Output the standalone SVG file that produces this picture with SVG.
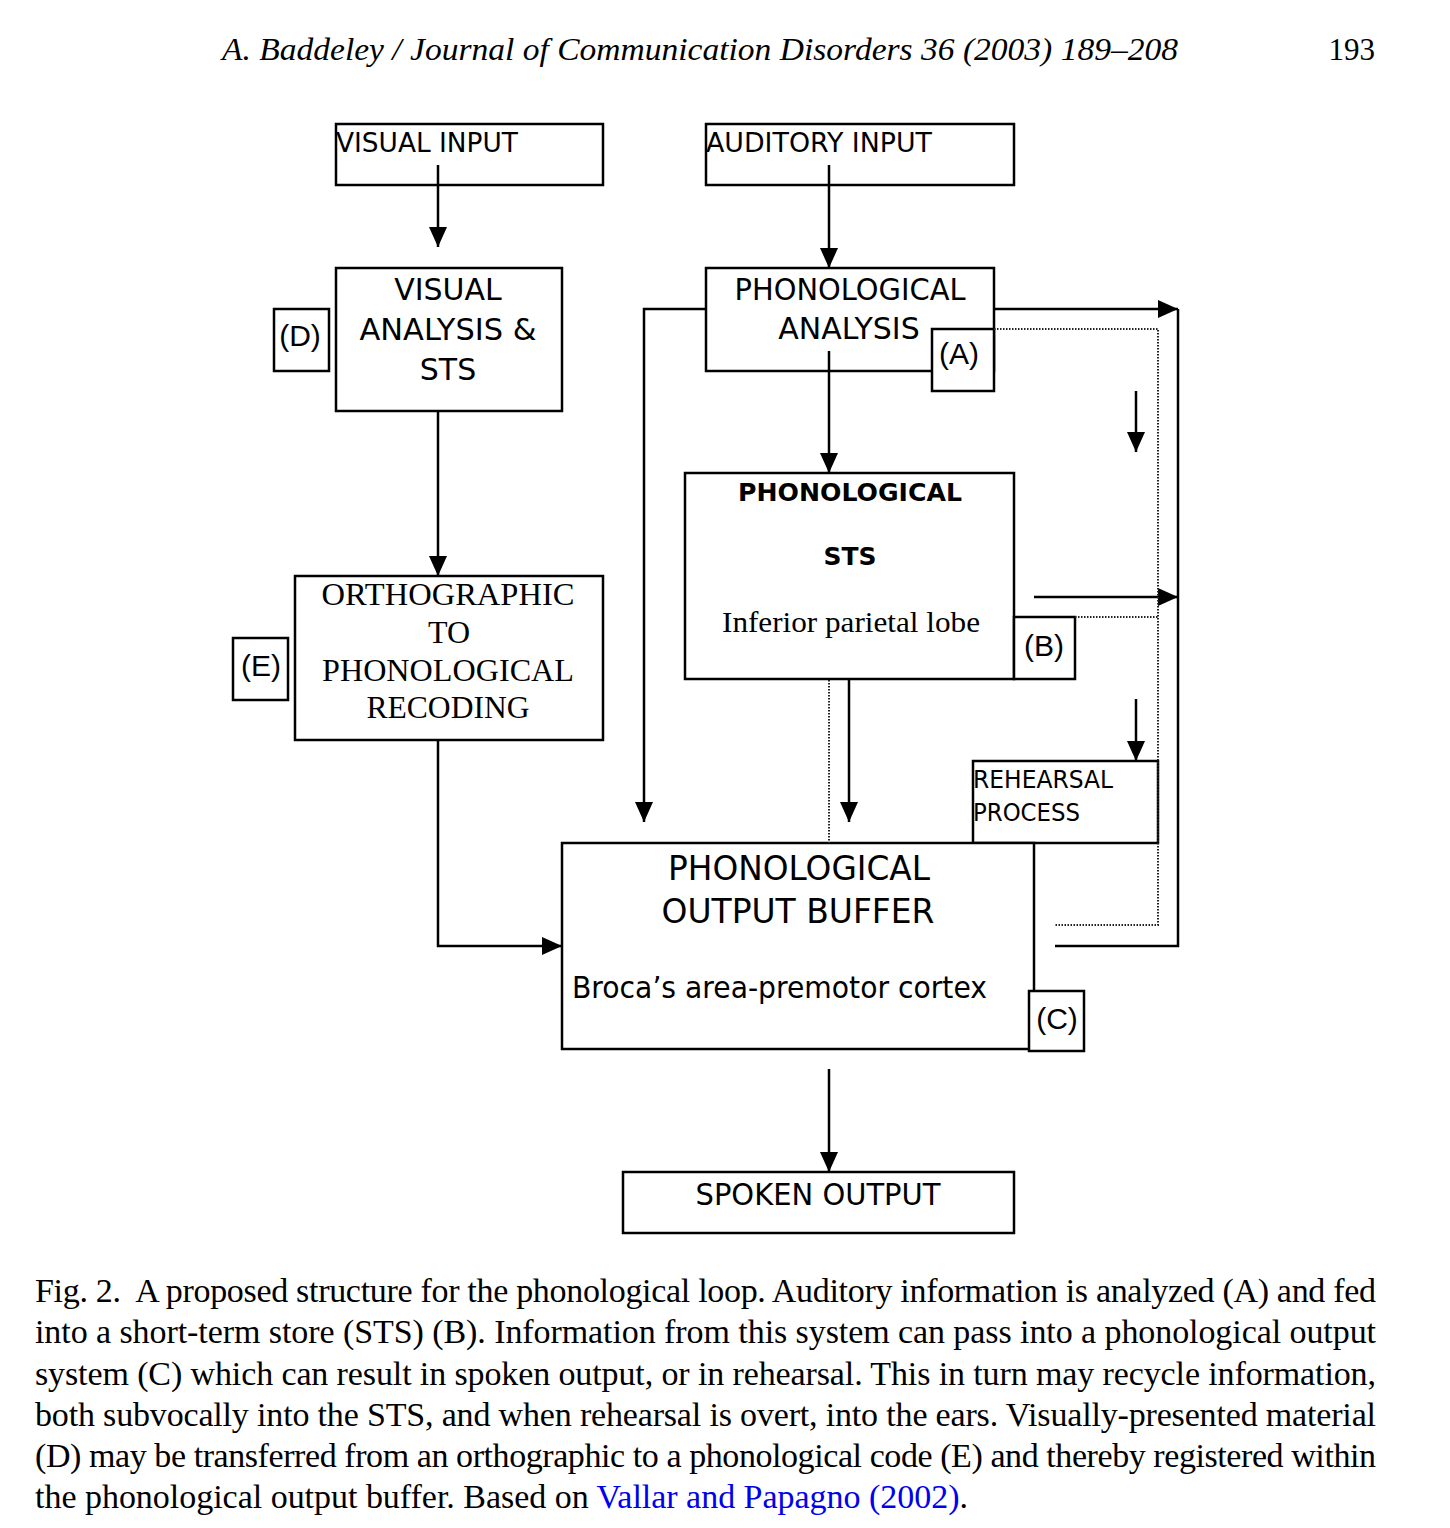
<svg xmlns="http://www.w3.org/2000/svg" width="1450" height="1528" viewBox="0 0 1450 1528">
<defs>
<marker id="ah" markerUnits="userSpaceOnUse" markerWidth="20" markerHeight="18" refX="20" refY="9" orient="auto">
<path d="M0,0 L20,9 L0,18 z" fill="#000"/>
</marker>
<style>
.box{fill:#fff;stroke:#000;stroke-width:2.5}
.ln{fill:none;stroke:#000;stroke-width:2.5}
.dot{fill:none;stroke:#222;stroke-width:2;stroke-dasharray:1.5 1.5}
.v{font-family:"DejaVu Sans",Verdana,sans-serif;fill:#000}
.a{font-family:"Liberation Sans",Arial,sans-serif;fill:#000;font-size:30px;text-anchor:middle}
.t{font-family:"Liberation Serif","Times New Roman",serif;fill:#000}
.cap{font-family:"Liberation Serif","Times New Roman",serif;font-size:34px;fill:#000}
</style>
</defs>
<rect width="1450" height="1528" fill="#fff"/>
<text class="t" x="222" y="60" font-size="31" font-style="italic" textLength="956" lengthAdjust="spacingAndGlyphs">A. Baddeley / Journal of Communication Disorders 36 (2003) 189–208</text>
<text class="t" x="1375" y="60" font-size="31" text-anchor="end">193</text>

<g id="visual-input">
<rect class="box" x="336" y="124" width="267" height="61"/>
<text class="v" x="336" y="152" font-size="27" textLength="182" lengthAdjust="spacingAndGlyphs">VISUAL INPUT</text>
</g>
<g id="visual-analysis">
<rect class="box" x="336" y="268" width="226" height="143"/>
<text class="v" x="448" y="300" font-size="30" text-anchor="middle">VISUAL</text>
<text class="v" x="448" y="340" font-size="30" text-anchor="middle" textLength="177" lengthAdjust="spacingAndGlyphs">ANALYSIS &amp;</text>
<text class="v" x="448" y="380" font-size="30" text-anchor="middle">STS</text>
</g>
<g id="label-d">
<rect class="box" x="274" y="309" width="55" height="62"/>
<text class="a" x="300" y="346">(D)</text>
</g>
<g id="orthographic">
<rect class="box" x="295" y="576" width="308" height="164"/>
<text class="t" x="448" y="605" font-size="32" text-anchor="middle" textLength="253" lengthAdjust="spacingAndGlyphs">ORTHOGRAPHIC</text>
<text class="t" x="449" y="643" font-size="32" text-anchor="middle">TO</text>
<text class="t" x="448" y="681" font-size="32" text-anchor="middle" textLength="252" lengthAdjust="spacingAndGlyphs">PHONOLOGICAL</text>
<text class="t" x="448" y="718" font-size="32" text-anchor="middle" textLength="163" lengthAdjust="spacingAndGlyphs">RECODING</text>
</g>
<g id="label-e">
<rect class="box" x="233" y="638" width="55" height="62"/>
<text class="a" x="261" y="676">(E)</text>
</g>
<g id="auditory-input">
<rect class="box" x="706" y="124" width="308" height="61"/>
<text class="v" x="706" y="152" font-size="27" textLength="226" lengthAdjust="spacingAndGlyphs">AUDITORY INPUT</text>
</g>
<g id="phonological-analysis">
<rect class="box" x="706" y="268" width="288" height="103"/>
<text class="v" x="850" y="300" font-size="30" text-anchor="middle" textLength="231" lengthAdjust="spacingAndGlyphs">PHONOLOGICAL</text>
<text class="v" x="849" y="339" font-size="30" text-anchor="middle">ANALYSIS</text>
</g>
<g id="label-a">
<rect class="box" x="932" y="329" width="62" height="62"/>
<text class="a" x="959" y="364">(A)</text>
</g>
<g id="phonological-sts">
<rect class="box" x="685" y="473" width="329" height="206"/>
<text class="v" x="850" y="501" font-size="25" font-weight="bold" text-anchor="middle" textLength="224" lengthAdjust="spacingAndGlyphs">PHONOLOGICAL</text>
<text class="v" x="850" y="565" font-size="25" font-weight="bold" text-anchor="middle" textLength="53" lengthAdjust="spacingAndGlyphs">STS</text>
<text class="t" x="851" y="632" font-size="30" text-anchor="middle" textLength="258" lengthAdjust="spacingAndGlyphs">Inferior parietal lobe</text>
</g>
<g id="label-b">
<rect class="box" x="1014" y="617" width="61" height="62"/>
<text class="a" x="1044" y="656">(B)</text>
</g>
<g id="rehearsal">
<rect class="box" x="973" y="761" width="185" height="82"/>
<text class="v" x="973" y="788" font-size="24" textLength="140" lengthAdjust="spacingAndGlyphs">REHEARSAL</text>
<text class="v" x="973" y="821" font-size="24" textLength="107" lengthAdjust="spacingAndGlyphs">PROCESS</text>
</g>
<g id="output-buffer">
<rect class="box" x="562" y="843" width="472" height="206"/>
<text class="v" x="799" y="880" font-size="34" text-anchor="middle" textLength="262" lengthAdjust="spacingAndGlyphs">PHONOLOGICAL</text>
<text class="v" x="798" y="923" font-size="34" text-anchor="middle" textLength="273" lengthAdjust="spacingAndGlyphs">OUTPUT BUFFER</text>
<text class="v" x="572" y="998" font-size="30" textLength="415" lengthAdjust="spacingAndGlyphs">Broca’s area-premotor cortex</text>
</g>
<g id="label-c">
<rect class="box" x="1029" y="991" width="55" height="60"/>
<text class="a" x="1057" y="1029">(C)</text>
</g>
<g id="spoken-output">
<rect class="box" x="623" y="1172" width="391" height="61"/>
<text class="v" x="818" y="1205" font-size="30" text-anchor="middle" textLength="245" lengthAdjust="spacingAndGlyphs">SPOKEN OUTPUT</text>
</g>

<g id="connectors">
<path class="ln" d="M438,165 V247" marker-end="url(#ah)"/>
<path class="ln" d="M438,411 V576" marker-end="url(#ah)"/>
<path class="ln" d="M438,740 V946 H562" marker-end="url(#ah)"/>
<path class="ln" d="M829,165 V268" marker-end="url(#ah)"/>
<path class="ln" d="M829,351 V473" marker-end="url(#ah)"/>
<path class="ln" d="M706,309 H644 V822" marker-end="url(#ah)"/>
<path class="ln" d="M849,679 V822" marker-end="url(#ah)"/>
<path class="ln" d="M994,309 H1178" marker-end="url(#ah)"/>
<path class="ln" d="M1055,946 H1178 V309"/>
<path class="ln" d="M1034,597 H1178" marker-end="url(#ah)"/>
<path class="ln" d="M1136,391 V452" marker-end="url(#ah)"/>
<path class="ln" d="M1136,699 V761" marker-end="url(#ah)"/>
<path class="ln" d="M829,1069 V1172" marker-end="url(#ah)"/>
<path class="dot" d="M994,329 H1158 V925 H1055"/>
<path class="dot" d="M1075,617 H1158"/>
<path class="dot" d="M829,680 V843"/>
</g>

<g id="caption">
<text class="cap" x="35" y="1302" textLength="1341" lengthAdjust="spacing" xml:space="preserve">Fig. 2.  A proposed structure for the phonological loop. Auditory information is analyzed (A) and fed</text>
<text class="cap" x="35" y="1343" textLength="1341" lengthAdjust="spacing">into a short-term store (STS) (B). Information from this system can pass into a phonological output</text>
<text class="cap" x="35" y="1385" textLength="1341" lengthAdjust="spacing">system (C) which can result in spoken output, or in rehearsal. This in turn may recycle information,</text>
<text class="cap" x="35" y="1426" textLength="1341" lengthAdjust="spacing">both subvocally into the STS, and when rehearsal is overt, into the ears. Visually-presented material</text>
<text class="cap" x="35" y="1467" textLength="1341" lengthAdjust="spacing">(D) may be transferred from an orthographic to a phonological code (E) and thereby registered within</text>
<text class="cap" x="35" y="1508" textLength="933" lengthAdjust="spacing">the phonological output buffer. Based on <tspan fill="#0000ee">Vallar and Papagno (2002)</tspan>.</text>
</g>
</svg>
